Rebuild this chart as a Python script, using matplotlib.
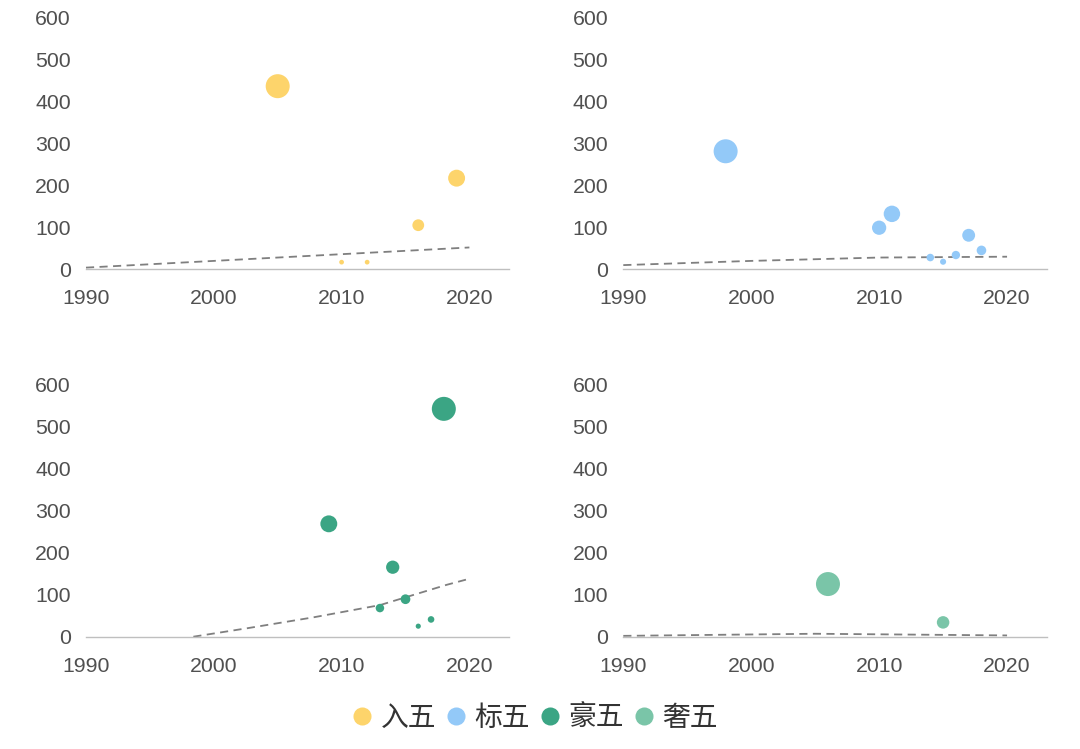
import matplotlib
matplotlib.use("Agg")
import matplotlib.pyplot as plt
from matplotlib.lines import Line2D
import numpy as np

# ---- data ----
labels = ["入五", "标五", "豪五", "奢五"]
colors = ["#FDD46B", "#93C9F8", "#3BA584", "#7AC5A8"]

tl_years = [2005, 2010, 2012, 2016, 2019]
tl_vals = [436, 17, 17, 105, 217]
tl_trend_years = [1990, 2020]
tl_trend_vals = [4, 52]

tr_years = [1998, 2010, 2011, 2014, 2015, 2016, 2017, 2018]
tr_vals = [281, 99, 132, 28, 18, 34, 81, 45]
tr_trend_years = [1990, 2000, 2010, 2020]
tr_trend_vals = [10, 20, 28, 30]

bl_years = [2009, 2013, 2014, 2015, 2016, 2017, 2018]
bl_vals = [268, 68, 165, 89, 25, 41, 541]
bl_trend_years = [1998.4, 2002.6, 2007.8, 2013, 2018.2, 2019.8]
bl_trend_vals = [0, 20, 46, 75, 123, 136]

br_years = [2006, 2015]
br_vals = [125, 34]
br_trend_years = [1990, 2005, 2020]
br_trend_vals = [2, 7, 3]

xticks = [1990, 2000, 2010, 2020]
yticks = [0, 100, 200, 300, 400, 500, 600]

panels = [
    (tl_years, tl_vals, tl_trend_years, tl_trend_vals),
    (tr_years, tr_vals, tr_trend_years, tr_trend_vals),
    (bl_years, bl_vals, bl_trend_years, bl_trend_vals),
    (br_years, br_vals, br_trend_years, br_trend_vals),
]

W, H = 1080, 749
fig = plt.figure(figsize=(W / 100, H / 100), dpi=100)

positions = [
    (86, 17.3, 509, 269.3),
    (623.3, 17.3, 1046.7, 269.3),
    (86, 384, 509, 636.7),
    (623.3, 384, 1046.7, 636.7),
]

tick_font = "Liberation Sans"
tick_color = "#505050"
max_area = (24 * 0.72) ** 2  # 24 px diameter

for (x0, y0, x1, y1), (yrs, vals, tyrs, tvals), col in zip(positions, panels, colors):
    ax = fig.add_axes([x0 / W, 1 - y1 / H, (x1 - x0) / W, (y1 - y0) / H])
    ax.set_xlim(1990, 2023.1)
    ax.set_ylim(0, 600)
    vmax = max(vals)
    sizes = [max_area * v / vmax for v in vals]
    ax.scatter(yrs, vals, s=sizes, color=col, edgecolors="none", zorder=3, clip_on=False)
    ax.plot(tyrs, tvals, color="#7F7F7F", lw=1.3, dashes=(4.5, 3), zorder=2, clip_on=False)
    for side in ["top", "right", "left"]:
        ax.spines[side].set_visible(False)
    ax.spines["bottom"].set_color("#BFBFBF")
    ax.spines["bottom"].set_linewidth(1.0)
    ax.set_xticks(xticks)
    ax.set_yticks(yticks)
    ax.tick_params(axis="both", length=0, labelsize=15.3, labelcolor=tick_color)
    ax.tick_params(axis="y", pad=11)
    ax.tick_params(axis="x", pad=14.5)
    for lab in ax.get_xticklabels() + ax.get_yticklabels():
        lab.set_fontfamily(tick_font)

handles = [Line2D([0], [0], marker="o", linestyle="none", markersize=13,
                  markerfacecolor=c, markeredgecolor="none") for c in colors]
leg = fig.legend(handles, labels, loc="center", bbox_to_anchor=(535 / W, 1 - 718 / H),
                 ncol=4, frameon=False, handlelength=0.72, handletextpad=0.29,
                 columnspacing=0.37, borderaxespad=0,
                 prop={"family": ["Noto Sans CJK SC", "DejaVu Sans"], "size": 20})
for t in leg.get_texts():
    t.set_color("#333333")

fig.savefig("out.png", dpi=100, facecolor="white")
